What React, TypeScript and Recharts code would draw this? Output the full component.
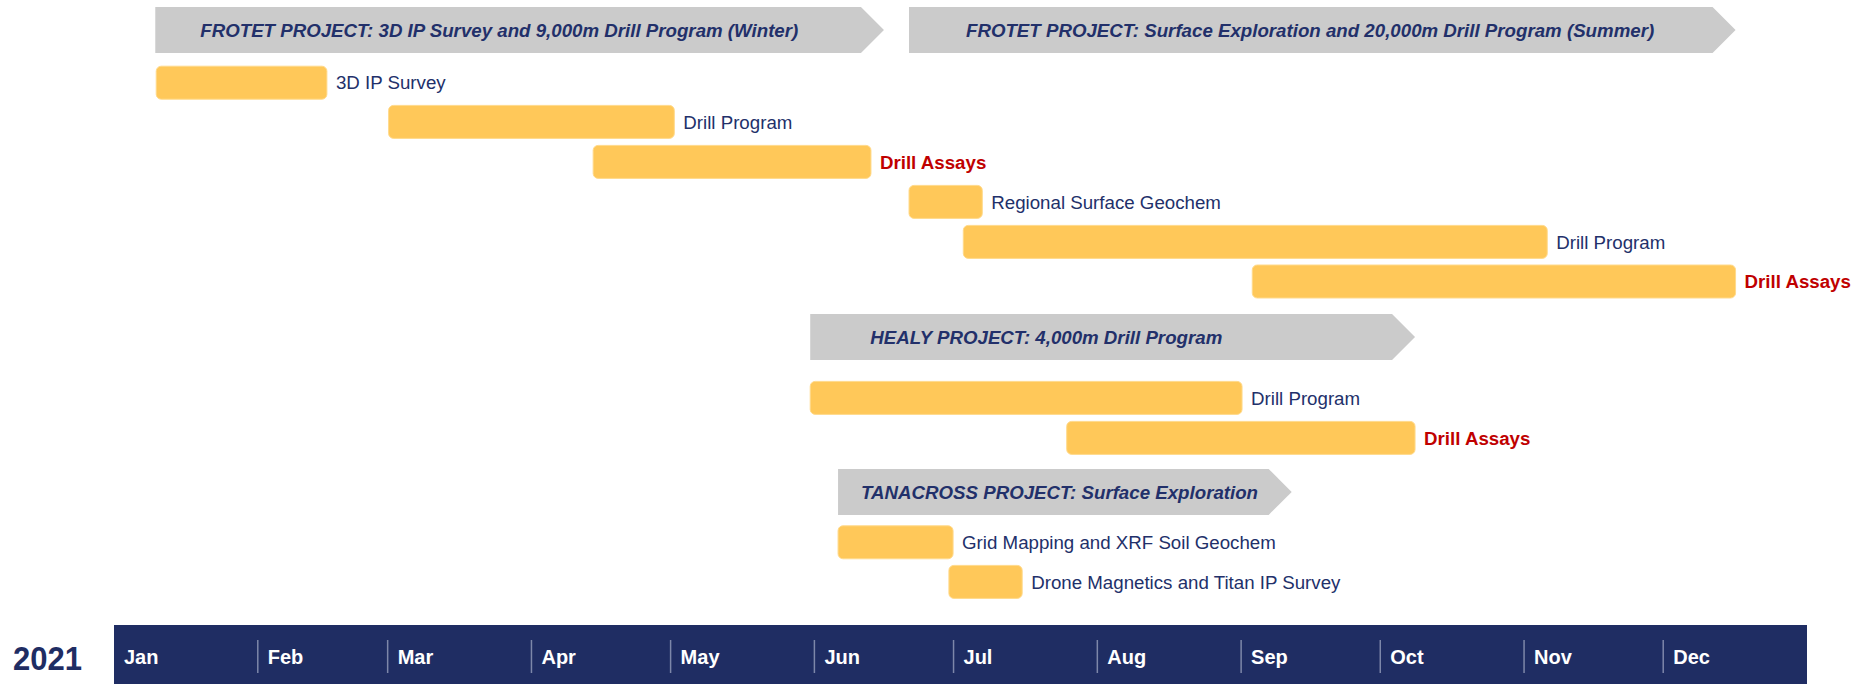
import { ComposedChart, Bar, XAxis, YAxis, LabelList, ReferenceArea, Label } from 'recharts';

const YEAR = '2021';
const months = ['Jan', 'Feb', 'Mar', 'Apr', 'May', 'Jun', 'Jul', 'Aug', 'Sep', 'Oct', 'Nov', 'Dec'];
const monthStarts = [0, 31, 59, 90, 120, 151, 181, 212, 243, 273, 304, 334];

const names = [
  'FROTET PROJECT: 3D IP Survey and 9,000m Drill Program (Winter)',
  '3D IP Survey',
  'Drill Program',
  'Drill Assays',
  'FROTET PROJECT: Surface Exploration and 20,000m Drill Program (Summer)',
  'Regional Surface Geochem',
  'Drill Program',
  'Drill Assays',
  'HEALY PROJECT: 4,000m Drill Program',
  'Drill Program',
  'Drill Assays',
  'TANACROSS PROJECT: Surface Exploration',
  'Grid Mapping and XRF Soil Geochem',
  'Drone Magnetics and Titan IP Survey',
];
const kinds = ['phase', 'task', 'task', 'assay', 'phase', 'task', 'task', 'assay', 'phase', 'task', 'assay', 'phase', 'task', 'task'];
// row slot of each item (top to bottom)
const lanes = [0.75, 2.07, 3.05, 4.05, 0.75, 5.05, 6.05, 7.04, 8.43, 9.95, 10.95, 12.3, 13.56, 14.55];
// day of year
const startDay = [8.9, 9.1, 59.2, 103.3, 171.4, 171.4, 183.1, 245.4, 150.1, 150.1, 205.4, 156.1, 156.1, 180.0];
const endDay = [166.0, 45.9, 120.8, 163.2, 349.6, 187.2, 309.0, 349.6, 280.5, 243.2, 280.5, 253.9, 180.9, 195.8];

const data = names.map((name, i) => ({
  name,
  kind: kinds[i],
  lane: lanes[i],
  span: [startDay[i], endDay[i]],
}));

// layout
const W = 1859;
const H = 684;
const AXIS_H = 59;
const ROW = 40;
const BANNER_H = 46;
const phaseInset = [45, 57, 60, 23];

const NAVY = '#1F2D63';
const TEXT = '#22306A';
const RED = '#C00000';
const GOLD = '#FFC859';
const GREY = '#CBCBCB';
const FONT = '"Liberation Sans", Arial, sans-serif';

const GanttShape = (props: any) => {
  const { x, y, width, height } = props;
  const kind = props.payload?.kind ?? props.kind;
  const cy = y + height / 2;
  if (kind === 'phase') {
    const h = BANNER_H / 2;
    const pts = `${x},${cy - h} ${x + width - h},${cy - h} ${x + width},${cy} ${x + width - h},${cy + h} ${x},${cy + h}`;
    return <polygon points={pts} fill={GREY} />;
  }
  return <rect x={x} y={y} width={width} height={height} rx={5} ry={5} fill={GOLD} stroke="#FFDA8C" strokeWidth={1} />;
};

const renderLabel = (props: any) => {
  const { viewBox, index, value } = props;
  const { x, y, width, height } = viewBox;
  const d = data[index];
  const cy = y + height / 2;
  if (d.kind === 'phase') {
    const order = data.slice(0, index).filter(r => r.kind === 'phase').length;
    return (
      <text x={x + phaseInset[order]} y={cy + 7.3} fill={TEXT} fontSize={18.7} fontWeight="bold"
        fontStyle="italic" fontFamily={FONT}>{value}</text>
    );
  }
  const assay = d.kind === 'assay';
  return (
    <text x={x + width + 9} y={cy + 6.7} fill={assay ? RED : TEXT} fontSize={18.7}
      fontWeight={assay ? 'bold' : 'normal'} fontFamily={FONT}>{value}</text>
  );
};

const MonthTick = (props: any) => {
  const { x, y, payload } = props;
  const i = monthStarts.indexOf(payload.value);
  return (
    <g>
      {i > 0 && <line x1={x} x2={x} y1={y + 15} y2={y + 48} stroke="#7D87A9" strokeWidth={1.5} />}
      <text x={x + 10} y={y + 39} fill="#fff" fontSize={20} fontWeight="bold" fontFamily={FONT}>{months[i]}</text>
    </g>
  );
};

const YearLabel = (props: any) => {
  const { x, y } = props.viewBox;
  return (
    <text x={x - 32} y={y + 45} textAnchor="end" fill={NAVY} fontSize={34} fontWeight="bold"
      fontFamily={FONT} textLength={69} lengthAdjust="spacingAndGlyphs">{YEAR}</text>
  );
};

export default function App() {
  const plotH = H - AXIS_H;
  return (
    <div style={{ position: 'absolute', left: 0, top: 0, width: W, height: H, background: '#fff' }}>
      <ComposedChart layout="vertical" width={W} height={H} data={data}
        margin={{ top: 0, right: 52, bottom: 0, left: 114 }}>
        <ReferenceArea x1={0} x2={365} y1={plotH / ROW} y2={H / ROW} fill={NAVY} fillOpacity={1}
          stroke="none" ifOverflow="visible" />
        <XAxis type="number" domain={[0, 365]} ticks={monthStarts} interval={0} allowDataOverflow
          height={AXIS_H} tick={<MonthTick />} tickLine={false} axisLine={false} tickSize={0} tickMargin={0}>
          <Label content={<YearLabel />} />
        </XAxis>
        <YAxis type="number" dataKey="lane" domain={[0, plotH / ROW]} hide allowDataOverflow />
        <Bar dataKey="span" barSize={33} shape={<GanttShape />} isAnimationActive={false}>
          <LabelList dataKey="name" content={renderLabel} />
        </Bar>
      </ComposedChart>
    </div>
  );
}
